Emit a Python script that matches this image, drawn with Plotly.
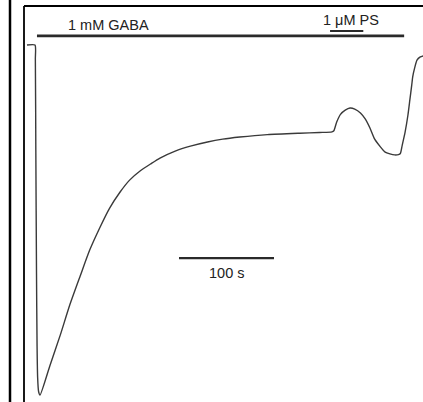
import plotly.graph_objects as go

# Whole-cell current trace (time in s, current in nA, arbitrary scale)
time_s = [0, 8.4, 8.8, 9.3, 10.0, 10.6, 11.2, 12.2, 13.7, 24, 35, 45, 56, 66, 77, 87,
          98, 108, 119, 130, 140, 156, 172, 190, 206, 224, 253, 287, 308, 321, 323,
          326, 330, 335, 340, 345, 351, 356, 361, 366, 372, 377, 382, 387, 391, 393,
          395, 398, 401, 403, 405, 406, 408, 410.5, 414, 417]
current_nA = [0, 0, -0.4, -3.0, -6.5, -8.6, -9.5, -9.9, -10.0, -9.17, -8.29, -7.43, -6.6,
              -5.86, -5.2, -4.66, -4.2, -3.86, -3.6, -3.4, -3.23, -3.03, -2.89, -2.77,
              -2.69, -2.63, -2.56, -2.52, -2.5, -2.48, -2.45, -2.2, -1.98, -1.86, -1.8,
              -1.83, -1.94, -2.11, -2.37, -2.69, -2.91, -3.06, -3.11, -3.14, -3.13, -3.1,
              -2.86, -2.49, -2.0, -1.57, -1.14, -0.91, -0.66, -0.43, -0.34, -0.31]

# Drug application intervals (s) and labels
gaba_interval = [10.5, 397]
gaba_label = "1 mM GABA"
ps_interval = [319, 354]
ps_label = "1 \u03bcM PS"
# Time scale bar (s)
scale_interval = [160, 260]
scale_label = "100 s"

GABA_Y = 0.26
PS_Y = 0.40
SCALE_Y = -6.09

fig = go.Figure()
fig.add_trace(go.Scatter(x=time_s, y=current_nA, mode="lines",
                         line=dict(color="#3a3a3a", width=1.4, shape="spline",
                                   smoothing=0.6),
                         showlegend=False, hoverinfo="skip"))
fig.add_trace(go.Scatter(x=gaba_interval, y=[GABA_Y, GABA_Y], mode="lines",
                         line=dict(color="#2a2a2a", width=2.6), showlegend=False))
fig.add_trace(go.Scatter(x=ps_interval, y=[PS_Y, PS_Y], mode="lines",
                         line=dict(color="#2a2a2a", width=2.2), showlegend=False))
fig.add_trace(go.Scatter(x=scale_interval, y=[SCALE_Y, SCALE_Y], mode="lines",
                         line=dict(color="#2a2a2a", width=2.2), showlegend=False))

font = dict(family="Liberation Sans, Arial, sans-serif", size=14.5, color="#222")
fig.add_annotation(x=86, y=0.57, text=gaba_label, showarrow=False, font=font)
fig.add_annotation(x=341, y=0.71, text=ps_label, showarrow=False, font=font)
fig.add_annotation(x=sum(scale_interval) / 2, y=-6.52, text=scale_label,
                   showarrow=False, font=font)

W, H = 423, 402
shapes = [
    dict(type="line", xref="paper", yref="paper", x0=10 / W, x1=10 / W, y0=0, y1=1,
         line=dict(color="black", width=2.5)),
    dict(type="line", xref="paper", yref="paper", x0=24 / W, x1=24 / W, y0=0,
         y1=1 - 6 / H, line=dict(color="black", width=1.8)),
    dict(type="line", xref="paper", yref="paper", x0=24 / W, x1=1, y0=1 - 6 / H,
         y1=1 - 6 / H, line=dict(color="black", width=1.8)),
]

fig.update_layout(
    width=W, height=H, margin=dict(l=0, r=0, t=0, b=0),
    paper_bgcolor="white", plot_bgcolor="white",
    xaxis=dict(range=[-28.42, 416.84], visible=False, fixedrange=True),
    yaxis=dict(range=[-10.2, 1.286], visible=False, fixedrange=True),
    shapes=shapes,
)
fig.write_html("out.html", config={"displayModeBar": False},
               post_script="document.body.style.margin='0';document.body.style.overflow='hidden';")
